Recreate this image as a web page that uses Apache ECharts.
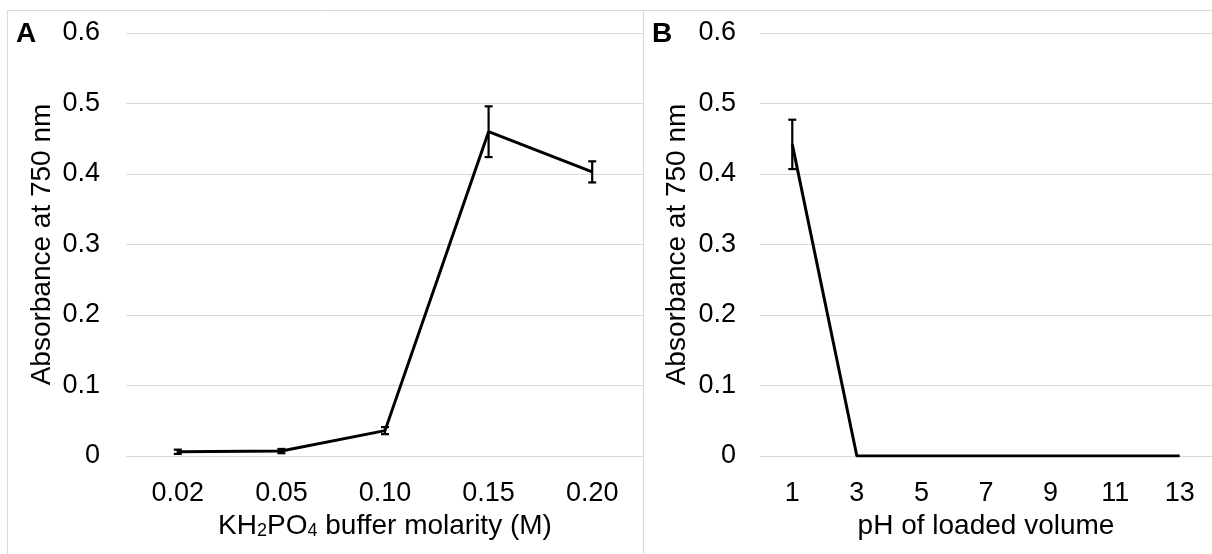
<!DOCTYPE html>
<html>
<head>
<meta charset="utf-8">
<script src="https://cdn.jsdelivr.net/npm/echarts@6/dist/echarts.min.js"></script>
<style>
  html, body { margin: 0; padding: 0; background: #fff; }
  #chart { width: 1212px; height: 554px; }
</style>
</head>
<body>
<div id="chart"></div>
<script>
// Panel A: absorbance vs. KH2PO4 buffer molarity
const molarityLabels = ['0.02', '0.05', '0.10', '0.15', '0.20'];
const molarityMean = [0.006, 0.007, 0.036, 0.460, 0.403];
const molarityErr = [0.003, 0.003, 0.005, 0.036, 0.015];

// Panel B: absorbance vs. pH of loaded volume
const phLabels = ['1', '3', '5', '7', '9', '11', '13'];
const phMean = [0.442, 0, 0, 0, 0, 0, 0];
const phErr = [0.035, 0, 0, 0, 0, 0, 0];

// Shared y-axis ticks
const yTicks = [0, 0.1, 0.2, 0.3, 0.4, 0.5, 0.6];

const FONT = '"Liberation Sans", Arial, sans-serif';
const FS = 27;
const TXT = '#000';
const GRID = '#d9d9d9';

function yAxis(gridIndex, gap, titleGap) {
  return {
    type: 'value', gridIndex: gridIndex,
    min: yTicks[0], max: yTicks[yTicks.length - 1], interval: 0.1,
    axisLine: { show: false }, axisTick: { show: false },
    splitLine: { lineStyle: { color: GRID, width: 1 } },
    axisLabel: {
      margin: gap, fontSize: FS, fontFamily: FONT, color: TXT,
      formatter: v => (Math.abs(v) < 1e-9 ? '0' : v.toFixed(1))
    },
    name: 'Absorbance at 750 nm', nameLocation: 'middle', nameGap: titleGap,
    nameTextStyle: { fontSize: 28, fontFamily: FONT, color: TXT }
  };
}

function xAxis(gridIndex, cats, name, titleGap, rich) {
  return {
    type: 'category', gridIndex: gridIndex, data: cats, boundaryGap: true,
    axisLine: { show: false }, axisTick: { show: false },
    axisLabel: { margin: 24, fontSize: FS, fontFamily: FONT, color: TXT },
    name: name, nameLocation: 'middle', nameGap: titleGap,
    nameTextStyle: Object.assign({ fontSize: 28, fontFamily: FONT, color: TXT }, rich ? { rich: rich } : {})
  };
}

// Vertical error bar with end caps, positioned through the axes
function errorBarItem(params, api) {
  const idx = api.value(0), v = api.value(1), e = api.value(2);
  if (!e) return null;
  const top = api.coord([idx, v + e]);
  const bot = api.coord([idx, v - e]);
  const cap = 4;
  const style = { stroke: '#000', lineWidth: 2.2 };
  return {
    type: 'group',
    children: [
      { type: 'line', shape: { x1: top[0], y1: top[1], x2: bot[0], y2: bot[1] }, style: style },
      { type: 'line', shape: { x1: top[0] - cap, y1: top[1], x2: top[0] + cap, y2: top[1] }, style: style },
      { type: 'line', shape: { x1: bot[0] - cap, y1: bot[1], x2: bot[0] + cap, y2: bot[1] }, style: style }
    ]
  };
}

// Chemical formula with subscript digits
const subRich = {
  n: { fontSize: 28, lineHeight: 34, verticalAlign: 'bottom', fontFamily: FONT, color: TXT },
  s: { fontSize: 18, lineHeight: 18, verticalAlign: 'bottom', fontFamily: FONT, color: TXT }
};

const chart = echarts.init(document.getElementById('chart'), null, { renderer: 'canvas' });
chart.setOption({
  backgroundColor: '#fff',
  animation: false,
  grid: [
    { left: 126, top: 33, width: 518, height: 423 },
    { left: 760, top: 33, width: 460, height: 423 }
  ],
  xAxis: [
    xAxis(0, molarityLabels, '{n|KH}{s|2}{n|PO}{s|4}{n| buffer molarity (M)}', 50, subRich),
    xAxis(1, phLabels, 'pH of loaded volume', 53)
  ],
  yAxis: [yAxis(0, 26, 70), yAxis(1, 24, 69)],
  graphic: [
    { type: 'rect', silent: true, z: -10, shape: { x: 7.5, y: 10.5, width: 636, height: 700 },
      style: { fill: 'none', stroke: GRID, lineWidth: 1 } },
    { type: 'rect', silent: true, z: -10, shape: { x: 643.5, y: 10.5, width: 700, height: 700 },
      style: { fill: 'none', stroke: GRID, lineWidth: 1 } },
    { type: 'text', left: 16, top: 20, style: { text: 'A', fontSize: 28, fontWeight: 'bold', fontFamily: FONT, fill: TXT } },
    { type: 'text', left: 652, top: 20, style: { text: 'B', fontSize: 28, fontWeight: 'bold', fontFamily: FONT, fill: TXT } }
  ],
  series: [
    { type: 'line', xAxisIndex: 0, yAxisIndex: 0, data: molarityMean, symbol: 'none',
      lineStyle: { color: '#000', width: 3 }, z: 3 },
    { type: 'custom', xAxisIndex: 0, yAxisIndex: 0, renderItem: errorBarItem, z: 4,
      data: molarityMean.map((v, i) => [i, v, molarityErr[i]]) },
    { type: 'line', xAxisIndex: 1, yAxisIndex: 1, data: phMean, symbol: 'none',
      lineStyle: { color: '#000', width: 3 }, z: 3 },
    { type: 'custom', xAxisIndex: 1, yAxisIndex: 1, renderItem: errorBarItem, z: 4,
      data: phMean.map((v, i) => [i, v, phErr[i]]) }
  ]
});
</script>
</body>
</html>
